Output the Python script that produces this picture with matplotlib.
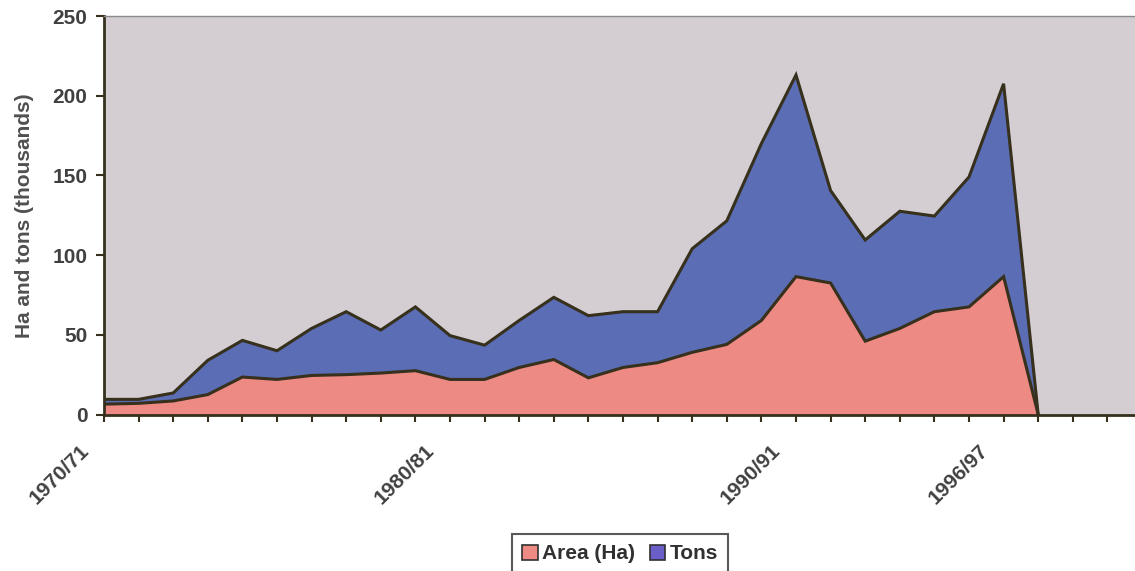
#!/usr/bin/env python

"""
Stacked area chart of cultivated area and tonnage per season.
"""

import matplotlib
matplotlib.use("Agg")
import matplotlib.pyplot as plt
import matplotlib.transforms as mtransforms
from matplotlib.patches import Patch
import numpy as np

plt.rc("font", family=["Liberation Sans", "DejaVu Sans"], weight="bold")

# Seasons on the category axis (1970/71 ... 1999/2000)
seasons = ["{}/{:02d}".format(y, (y + 1) % 100) for y in range(1970, 2000)]
shownLabels = ["1970/71", "1980/81", "1990/91", "1996/97"]

# Values in thousands, one per season up to 1997/98
areaHa = [6.5, 7.0, 8.5, 12.5, 23.5, 22.0, 24.5, 25.0, 26.0, 27.5,
          22.0, 22.0, 29.5, 34.5, 23.0, 29.5, 32.5, 39.0, 44.0, 59.0,
          86.5, 82.5, 46.0, 54.0, 64.5, 67.5, 86.5, 0.0]
tons = [3.0, 2.5, 5.0, 21.5, 23.0, 18.0, 29.5, 39.5, 27.0, 40.0,
        27.5, 21.5, 29.5, 39.0, 39.0, 35.0, 32.0, 65.0, 77.5, 111.0,
        126.5, 58.0, 63.5, 73.5, 60.0, 81.5, 121.0, 0.0]

yTicks = [0, 50, 100, 150, 200, 250]

def plotAreaTons(fileName="out.png"):
    """
    Plots the stacked area chart and saves it
    """
    bgColor   = "#d4ced2"
    pinkColor = "#ee8a84"
    blueColor = "#5b6db5"
    lineColor = "#36301c"
    textColor = "#404040"
    lw        = 2.2

    fig = plt.figure(figsize=(11.35, 5.71), dpi=100)
    ax = fig.add_axes([104/1135, 156.5/571, 1031/1135, 398.5/571])
    ax.set_facecolor(bgColor)

    x = np.arange(len(areaHa))
    area = np.array(areaHa)
    total = area + np.array(tons)

    ax.fill_between(x, 0, area, color=pinkColor, lw=0)
    ax.fill_between(x, area, total, color=blueColor, lw=0)
    ax.plot(x, area, color=lineColor, lw=lw, solid_joinstyle="miter")
    ax.plot(x, total, color=lineColor, lw=lw, solid_joinstyle="miter")

    ax.set_xlim(0, 1031/34.6)
    ax.set_ylim(0, 250)

    # Y axis
    ax.set_yticks(yTicks)
    ax.tick_params(axis="y", direction="out", length=6, width=1.5,
                   color=lineColor, labelsize=15, labelcolor=textColor, pad=6)
    ax.set_ylabel("Ha and tons (thousands)", fontsize=15, fontweight="bold",
                  color="#505050", labelpad=13)

    # X axis: a tick for every season, labels only on a few
    ax.set_xticks(np.arange(len(seasons)))
    ax.set_xticklabels([s if s in shownLabels else "" for s in seasons])
    ax.tick_params(axis="x", direction="out", length=5, width=1.5,
                   color=lineColor, labelsize=15, labelcolor=textColor, pad=14)
    offset = mtransforms.ScaledTranslation(-0.25, 0, fig.dpi_scale_trans)
    for lab in ax.get_xticklabels():
        lab.set_rotation(45)
        lab.set_rotation_mode("anchor")
        lab.set_ha("right")
        lab.set_va("top")
        lab.set_transform(lab.get_transform() + offset)

    for side in ("left", "bottom"):
        ax.spines[side].set_color(lineColor)
        ax.spines[side].set_linewidth(2)
    ax.spines["top"].set_color("#8a8a8a")
    ax.spines["top"].set_linewidth(1)
    ax.spines["right"].set_visible(False)

    handles = [Patch(facecolor=pinkColor, edgecolor="#303030", lw=1.2, label="Area (Ha)"),
               Patch(facecolor="#6a5fc8", edgecolor="#303030", lw=1.2, label="Tons")]
    leg = fig.legend(handles=handles, loc="upper left",
                     bbox_to_anchor=(512/1135, 1 - 534/571), ncol=2,
                     frameon=True, fancybox=False, fontsize=15,
                     handlelength=0.75, handleheight=0.75, handletextpad=0.2,
                     columnspacing=0.7, borderpad=0.5, borderaxespad=0)
    leg.get_frame().set_edgecolor("#303030")
    leg.get_frame().set_linewidth(1.5)
    for t in leg.get_texts():
        t.set_color("#303030")

    fig.savefig(fileName, dpi=100)
    return fileName

if __name__ == "__main__":
    plotAreaTons()
